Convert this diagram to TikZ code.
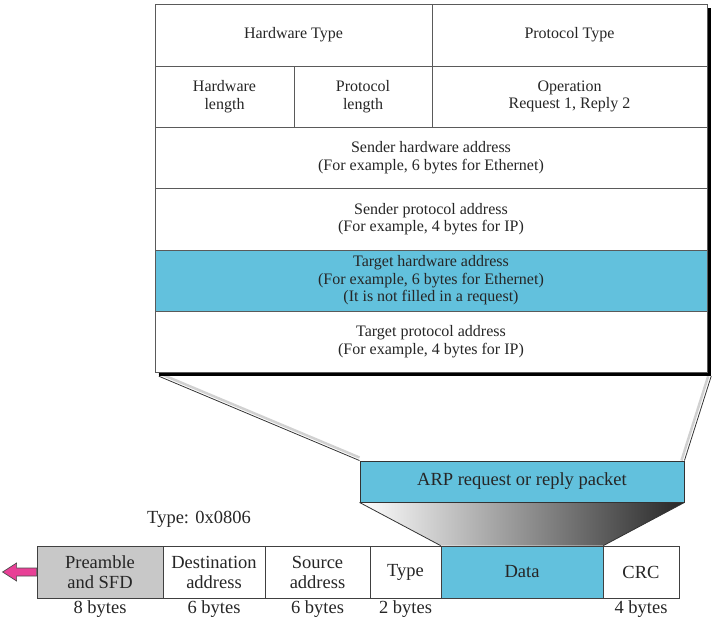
\documentclass[tikz,border=0pt]{standalone}
\usepackage{fontspec}
\setmainfont{Liberation Serif}
\usetikzlibrary{backgrounds}
\definecolor{arpblue}{RGB}{98,193,221}
\definecolor{pinkarrow}{RGB}{232,64,150}
\definecolor{preamblegray}{RGB}{200,200,200}
\definecolor{linegray}{RGB}{90,90,90}
\begin{document}
\begin{tikzpicture}[x=1pt,y=-1pt,
  tcell/.style={draw=linegray, line width=0.8pt, fill=white, inner sep=0pt,
    align=center, text=black!85, font=\fontsize{16}{17.5}\selectfont},
  fcell/.style={draw=black!75, line width=0.8pt, fill=white, inner sep=0pt,
    minimum height=52pt, align=center, text=black!85,
    font=\fontsize{18.5}{20}\selectfont},
  lbl/.style={inner sep=0pt, text=black!85, font=\fontsize{18.5}{20}\selectfont},
  conn/.style={draw=black!80, line width=0.8pt},
  connshadow/.style={draw=black!18, line width=2.5pt},
  arrowshape/.style={fill=pinkarrow, draw=black!70, line width=0.7pt, line join=miter}
]
\useasboundingbox (0,0) rectangle (718,620);

% table shadow and frame
\node[fill=black, inner sep=0pt, minimum width=552pt, minimum height=368pt] (tshadow) at (435,192) {};
\node[draw=linegray, fill=white, inner sep=0pt, minimum width=552pt, minimum height=368pt] (tbl) at (431,188) {};

% row 1
\node[tcell, minimum width=277pt, minimum height=62pt] (hwtype) at (293.5,35) {Hardware Type};
\node[tcell, minimum width=275pt, minimum height=62pt] (prtype) at (569.5,35) {Protocol Type};
% row 2
\node[tcell, minimum width=139pt, minimum height=61pt] (hwlen) at (224.5,96.5) {Hardware\\length};
\node[tcell, minimum width=138pt, minimum height=61pt] (prlen) at (363,96.5) {Protocol\\length};
\node[tcell, minimum width=275pt, minimum height=61pt] (oper) at (569.5,96.5) {Operation\\Request 1, Reply 2};
% rows 3-6
\node[tcell, minimum width=552pt, minimum height=61pt] (shw) at (431,157.5) {Sender hardware address\\(For example, 6 bytes for Ethernet)};
\node[tcell, minimum width=552pt, minimum height=62pt] (spr) at (431,219) {Sender protocol address\\(For example, 4 bytes for IP)};
\node[tcell, fill=arpblue, minimum width=552pt, minimum height=61pt] (thw) at (431,280.5) {Target hardware address\\(For example, 6 bytes for Ethernet)\\(It is not filled in a request)};
\node[tcell, minimum width=552pt, minimum height=61pt] (tpr) at (431,341.5) {Target protocol address\\(For example, 4 bytes for IP)};

% ARP packet box
\node[draw=black!80, line width=0.9pt, fill=arpblue, inner sep=0pt, minimum width=324pt, minimum height=41pt,
  text=black!85, font=\fontsize{18.5}{20}\selectfont] (arp) at (522,481.5) {ARP request or reply packet};

% Ethernet frame
\node[fcell, fill=preamblegray, minimum width=126pt] (pre) at (100,572) {Preamble\\and SFD};
\node[fcell, minimum width=102pt] (dst) at (214,572) {Destination\\address};
\node[fcell, minimum width=105pt] (src) at (317.5,572) {Source\\address};
\node[fcell, minimum width=71pt] (typ) at (405.5,572) {Type};
\node[fcell, fill=arpblue, minimum width=162pt] (data) at (522,572) {Data};
\node[fcell, minimum width=76pt] (crc) at (641,572) {CRC};

% labels
\node[lbl] (typelbl) at (199,519) {Type: 0x0806};
\node[lbl] (b1) at (100,609) {8 bytes};
\node[lbl] (b2) at (214,609) {6 bytes};
\node[lbl] (b3) at (317.5,609) {6 bytes};
\node[lbl] (b4) at (405.5,609) {2 bytes};
\node[lbl] (b5) at (641,609) {4 bytes};

% connectors from table to ARP box
\begin{scope}[on background layer]
  \draw[connshadow] ([yshift=3pt]tshadow.south west) -- ([yshift=3pt]arp.north west);
  \draw[connshadow] ([xshift=-3pt]tshadow.south east) -- ([xshift=-3pt]arp.north east);
  \shade[left color=white, right color=black!85]
    (arp.south west) -- (arp.south east) -- (data.north east) -- (data.north west) -- cycle;
\end{scope}
\draw[conn] (tshadow.south west) -- (arp.north west);
\draw[conn] (tshadow.south east) -- (arp.north east);
\draw[conn] (arp.south west) -- (data.north west);
\draw[conn] (arp.south east) -- (data.north east);

% pink arrow
\draw[arrowshape] (pre.west) ++(0,-4) -- ++(-20,0) -- ++(0,-5) -- ++(-14,9) -- ++(14,9) -- ++(0,-5) -- ++(20,0) -- cycle;
\end{tikzpicture}
\end{document}
